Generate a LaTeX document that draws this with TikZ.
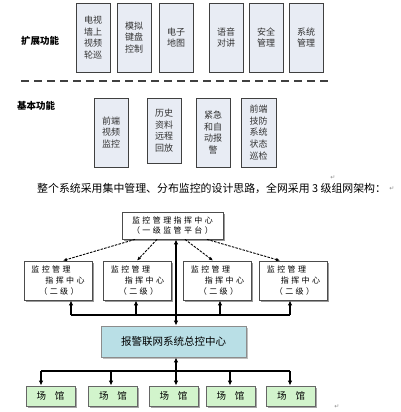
\documentclass[tikz,border=0pt]{standalone}
\usepackage{fontspec}
\newfontfamily\cjk{Noto Sans CJK SC}
\newfontfamily\cjkwide[LetterSpace=30]{Noto Sans CJK SC}
\newfontfamily\symfont{DejaVu Sans}
\usepackage{tikz}
\usetikzlibrary{arrows.meta}
\usetikzlibrary{shadows}
\definecolor{funcfill}{HTML}{E8ECF4}
\definecolor{ctrfill}{HTML}{B9DFE6}
\definecolor{hallfill}{HTML}{D2F4CC}

\tikzset{
  func/.style={draw=black!75, line width=0.9pt, fill=funcfill, minimum width=34pt,
    inner sep=0pt, align=center, text=black!80, font=\cjk\fontsize{9}{11.7}\selectfont,
    drop shadow={shadow xshift=1.2pt, shadow yshift=-1.2pt, fill=black!30, opacity=1}},
  funclabel/.style={font=\cjk\bfseries\fontsize{9.5}{11}\selectfont, inner sep=0pt},
  sepline/.style={draw=black!75, line width=1.3pt, dash pattern=on 8pt off 5pt},
  retmark/.style={font=\symfont\fontsize{6}{6}\selectfont, text=black!45, inner sep=0pt},
  hqbox/.style={draw=black!70, line width=0.8pt, fill=white, inner sep=0pt, align=center,
    font=\cjkwide\fontsize{8}{10.5}\selectfont,
    drop shadow={shadow xshift=1.5pt, shadow yshift=-1.5pt, fill=black!40, opacity=1}},
  subbox/.style={draw=black!70, line width=0.8pt, fill=white, inner sep=0pt, align=left,
    minimum width=68pt, minimum height=39pt, font=\cjkwide\fontsize{8}{11}\selectfont,
    drop shadow={shadow xshift=1.5pt, shadow yshift=-1.5pt, fill=black!40, opacity=1}},
  ctrbox/.style={draw=black!45, line width=0.8pt, fill=ctrfill, inner sep=0pt,
    minimum width=145pt, minimum height=31pt, font=\cjk\fontsize{10.5}{12}\selectfont,
    drop shadow={shadow xshift=1.5pt, shadow yshift=-1.5pt, fill=black!25, opacity=1}},
  hallbox/.style={draw=black!60, line width=0.8pt, fill=hallfill, inner sep=0pt,
    minimum width=49pt, minimum height=20pt, font=\cjk\fontsize{9.5}{11}\selectfont,
    drop shadow={shadow xshift=1.5pt, shadow yshift=-1.5pt, fill=black!35, opacity=1}},
  dasharrow/.style={line width=0.9pt, dash pattern=on 2.5pt off 1.2pt, -{Latex[length=4pt,width=3.5pt]}},
  bus/.style={line width=1.6pt},
  busarrow/.style={line width=1.6pt, -{Latex[length=5pt,width=4.5pt]}},
}

\begin{document}
\begin{tikzpicture}[x=1pt,y=-1pt]
  \useasboundingbox (0,0) rectangle (400,412);

  % The extended functions
  \node[funclabel] (ext) at (40,41) {扩展功能};
  \node[func, minimum height=69pt] (tvwall) at (93,37.5) {电视\\墙上\\视频\\轮巡};
  \node[func, minimum height=69pt] (keypad) at (134,37.5) {模拟\\键盘\\控制};
  \node[func, minimum height=69pt] (emap) at (176,37.5) {电子\\地图};
  \node[func, minimum height=69pt] (voice) at (226,37.5) {语音\\对讲};
  \node[func, minimum height=69pt] (secmgr) at (266,37.5) {安全\\管理};
  \node[func, minimum height=69pt] (sysmgr) at (306,37.5) {系统\\管理};

  % The separator
  \coordinate (sepL) at (21,81);
  \coordinate (sepR) at (332,81);
  \draw[sepline] (sepL) -- (sepR);

  % The basic functions
  \node[funclabel] (basic) at (36,106) {基本功能};
  \node[func, minimum height=69pt] (video) at (111,132.5) {前端\\视频\\监控};
  \node[func, minimum height=65pt] (replay) at (164,130.5) {历史\\资料\\远程\\回放};
  \node[func, minimum height=69pt] (alarm) at (213,132.5) {紧急\\和自\\动报\\警};
  \node[func, minimum height=69pt, minimum width=35pt] (patrol) at (258.5,132.5) {前端\\技防\\系统\\状态\\巡检};

  % The sentence
  \node[anchor=west, inner sep=0pt, font=\cjk\fontsize{10.9}{12}\selectfont] (intro) at (37,188)
    {整个系统采用集中管理、分布监控的设计思路，全网采用 3 级组网架构：};
  \node[retmark] (ret1) at (333,178) {↵};
  \node[retmark] (ret2) at (392,189) {↵};
  \node[retmark] (ret3) at (337,407) {↵};

  % The levels
  \node[hqbox, minimum width=101pt, minimum height=27pt] (hq) at (172.5,225.5) {监控管理指挥中心\\（一级监管平台）};
  \node[subbox] (subA) at (58,280.5) {监控管理\\\hspace*{14pt}指挥中心\\\hspace*{8pt}（二级）};
  \node[subbox] (subB) at (137.5,280.5) {监控管理\\\hspace*{14pt}指挥中心\\\hspace*{8pt}（二级）};
  \node[subbox] (subC) at (217.5,280.5) {监控管理\\\hspace*{14pt}指挥中心\\\hspace*{8pt}（二级）};
  \node[subbox] (subD) at (293.5,280.5) {监控管理\\\hspace*{14pt}指挥中心\\\hspace*{8pt}（二级）};

  \draw[dasharrow] ([xshift=-37.5pt]hq.south) -- ([xshift=5pt]subA.north);
  \draw[dasharrow] ([xshift=-15.5pt]hq.south) -- ([xshift=-0.5pt]subB.north);
  \draw[dasharrow] ([xshift=12.5pt]hq.south) -- ([xshift=-4.5pt]subC.north);
  \draw[dasharrow] ([xshift=34.5pt]hq.south) -- ([xshift=-13.5pt]subD.north);

  \node[ctrbox] (ctr) at (173.5,341.5) {报警联网系统总控中心};

  % The upper bus
  \coordinate (upA) at (71,315);
  \coordinate (upB) at (136,315);
  \coordinate (upM) at (176,315);
  \coordinate (upC) at (220,315);
  \coordinate (upD) at (290,315);
  \draw[bus] (upA) -- (upD);
  \draw[busarrow] (upA) -- (upA |- subA.south);
  \draw[busarrow] (upB) -- (upB |- subB.south);
  \draw[busarrow] (upC) -- (upC |- subC.south);
  \draw[busarrow] (upD) -- (upD |- subD.south);
  \draw[busarrow] (upM) -- (upM |- hq.south);
  \draw[busarrow] (upM) -- (upM |- ctr.north);

  % The halls
  \node[hallbox] (hall1) at (50.5,396) {场\hspace{9pt}馆};
  \node[hallbox] (hall2) at (113,396) {场\hspace{9pt}馆};
  \node[hallbox] (hall3) at (173.5,396) {场\hspace{9pt}馆};
  \node[hallbox] (hall4) at (230.5,396) {场\hspace{9pt}馆};
  \node[hallbox] (hall5) at (291,396) {场\hspace{9pt}馆};

  % The lower bus
  \coordinate (dnA) at (41,371);
  \coordinate (dnB) at (111,371);
  \coordinate (dnM) at (176,371);
  \coordinate (dnC) at (230,371);
  \coordinate (dnD) at (290,371);
  \draw[bus] (dnA) -- (dnD);
  \draw[busarrow] (dnA) -- (dnA |- hall1.north);
  \draw[busarrow] (dnB) -- (dnB |- hall2.north);
  \draw[busarrow] (dnC) -- (dnC |- hall4.north);
  \draw[busarrow] (dnD) -- (dnD |- hall5.north);
  \draw[busarrow] (dnM) -- (dnM |- hall3.north);
  \draw[busarrow] (dnM) -- (dnM |- ctr.south);
\end{tikzpicture}
\end{document}
